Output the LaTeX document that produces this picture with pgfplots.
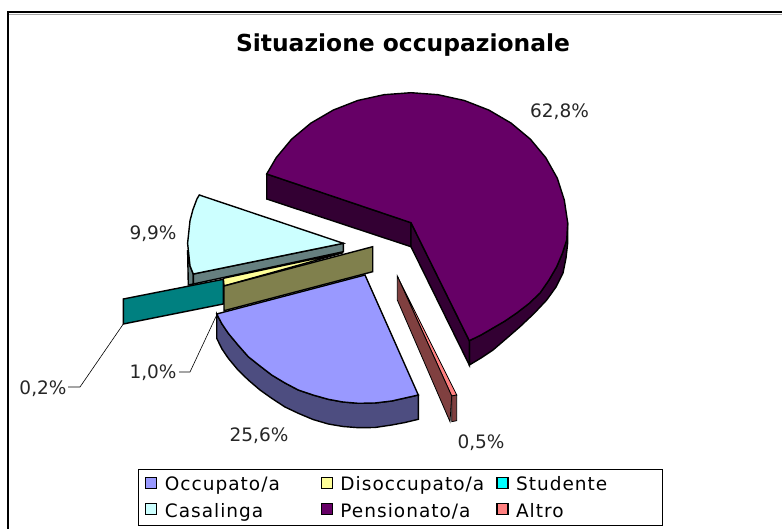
\documentclass[border=0pt]{standalone}
\usepackage{pgfplots}
\pgfplotsset{compat=1.18}
\usepackage{fontspec}
\setmainfont{DejaVu Sans}
\newfontfamily\legfont[LetterSpace=5.5]{DejaVu Sans}
\definecolor{cOcc}{HTML}{9999FF}\definecolor{cOccS}{HTML}{4D4D80}
\definecolor{cDis}{HTML}{FFFF99}\definecolor{cDisS}{HTML}{80804D}
\definecolor{cStu}{HTML}{00FFFF}\definecolor{cStuS}{HTML}{008080}
\definecolor{cCas}{HTML}{CCFFFF}\definecolor{cCasS}{HTML}{668080}
\definecolor{cPen}{HTML}{660066}\definecolor{cPenS}{HTML}{330033}
\definecolor{cAlt}{HTML}{FF8080}\definecolor{cAltS}{HTML}{804040}
\begin{document}
\begin{tikzpicture}
\begin{axis}[
  name=main,
  x=1pt,y=1pt,y dir=reverse,
  xmin=0,xmax=782,ymin=0,ymax=529,
  scale only axis,hide axis,
  legend columns=3,
  legend cell align=left,
  legend image code/.code={\draw[#1,line width=1.1pt] (0pt,0.5pt) rectangle (11pt,11.5pt);},
  legend style={at={(axis cs:138.3,469.3)},anchor=north west,draw=black,line width=0.9pt,
    inner xsep=6.5pt,inner ysep=5.5pt,
    font=\legfont\fontsize{18.5}{22}\selectfont,
    nodes={inner xsep=0pt,inner ysep=1.5pt,anchor=base west,yshift=-2pt},
    /tikz/every odd column/.append style={column sep=7.5pt},
    row sep=8pt},
  every axis plot/.append style={line width=1.4pt,draw=black},
]
\addlegendimage{fill=cOcc}\addlegendentry{\makebox[156pt][l]{Occupato/a}}
\addlegendimage{fill=cDis}\addlegendentry{\makebox[156pt][l]{Disoccupato/a}}
\addlegendimage{fill=cStu}\addlegendentry{\makebox[140pt][l]{Studente}}
\addlegendimage{fill=cCas}\addlegendentry{Casalinga}
\addlegendimage{fill=cPen}\addlegendentry{Pensionato/a}
\addlegendimage{fill=cAlt}\addlegendentry{Altro}
% frame
\addplot[forget plot,line width=2pt] coordinates {(7.5,529) (7.5,12.5) (782,12.5)};
\addplot[forget plot,draw=gray!70,line width=0.8pt] coordinates {(9,14.2) (782,14.2)};
% Pensionato
\addplot[forget plot,fill=cPenS] coordinates {(567.7,222.7) (567.7,243) (566,258) (563,273) (556,287) (546.7,300) (534,313.5) (520,326.7) (507,338) (493,350) (481,358) (469.3,365) (469.3,340.7) (481,335) (493,328) (505,321) (516.7,313) (529,303.5) (540,293) (549,280) (556.7,266.7) (562.5,253) (566.7,240)} --cycle;
\addplot[forget plot,fill=cPenS] coordinates {(266.7,174) (411,222.7) (411,246.7) (266.7,199)} --cycle;
\addplot[forget plot,fill=cPenS] coordinates {(411,222.7) (469.3,340.7) (469.3,365) (411,246.7)} --cycle;
\addplot[forget plot,fill=cPen] coordinates {(411,222.7) (266.7,174) (276.2,157.7) (291.7,139.1) (310.9,123.1) (333.2,110.1) (357.7,100.5) (384,94.7) (411,92.7) (438,94.7) (464.3,100.5) (488.9,110.1) (511.1,123.1) (530.3,139.1) (545.8,157.7) (557.3,178.2) (564.3,200.1) (567.7,222.7) (566.7,240) (562.5,253) (556.7,266.7) (549,280) (540,293) (529,303.5) (516.7,313) (505,321) (493,328) (481,335) (469.3,340.7)} --cycle;
% Casalinga
\addplot[forget plot,fill=cCasS] coordinates {(187.6,250) (190,265.9) (193.3,274) (193.3,284) (188.3,285)} --cycle;
\addplot[forget plot,fill=cCasS] coordinates {(193.3,274) (343.3,243.3) (343.3,251.7) (193.3,284)} --cycle;
\addplot[forget plot,fill=cCas] coordinates {(343.3,243.3) (199.3,195) (197,198.8) (192.9,209.7) (190,220.7) (187.6,243.3) (190,265.9) (193.3,274)} --cycle;
% Studente
\addplot[forget plot,fill=cStuS] coordinates {(123.3,299) (223.3,279.3) (223.3,304) (123.3,324)} --cycle;
% Disoccupato
\addplot[forget plot,fill=cDis] coordinates {(223.3,278.3) (343.3,252.7) (224,286)} --cycle;
\addplot[forget plot,fill=cDisS] coordinates {(224,286) (372.7,246.7) (372.7,271.7) (224,310.7)} --cycle;
% Occupato
\addplot[forget plot,fill=cOccS] coordinates {(216.7,314) (216.7,338.3) (222,349) (228.3,358.3) (238,370) (248.3,380) (260,390) (271.7,398.3) (285,407) (298.3,413.3) (313,419.5) (328.3,424) (343,426.5) (358.3,427.7) (375,427.5) (391.7,425) (405,422.5) (418.3,419.3) (418.3,395) (405,398) (391.7,401) (375,403) (358.3,403.3) (343,402) (328.3,399.3) (313,395) (298.3,390) (285,383) (271.7,375) (260,366) (248.3,356.7) (238,345) (228.3,333.3) (222,324)} --cycle;
\addplot[forget plot,fill=cOcc] coordinates {(365,275) (216.7,314) (222,324) (228.3,333.3) (238,345) (248.3,356.7) (260,366) (271.7,375) (285,383) (298.3,390) (313,395) (328.3,399.3) (343,402) (358.3,403.3) (375,403) (391.7,401) (405,398) (418.3,395)} --cycle;
% Altro
\addplot[forget plot,fill=cAlt,line width=0.8pt] coordinates {(397.3,276) (456.7,395) (451.7,396)} --cycle;
\addplot[forget plot,fill=cAltS,line width=0.8pt] coordinates {(397.3,276) (397.3,300) (450,421.7) (451.7,396)} --cycle;
\addplot[forget plot,fill=cAltS,line width=0.8pt] coordinates {(451.7,396) (456.7,395) (456.7,420.7) (451.7,421.7)} --cycle;
% leader lines
\addplot[forget plot,line width=0.6pt] coordinates {(68,387) (80,387) (123.3,324)};
\addplot[forget plot,line width=0.6pt] coordinates {(179,372) (190,372) (216.7,315)};
% texts
\node[font=\bfseries\fontsize{23.4}{26}\selectfont] at (axis cs:403,45) {Situazione occupazionale};
\begin{scope}[every node/.style={font=\fontsize{18.5}{22}\selectfont,text=black!85}]
\node at (axis cs:559.5,112) {62,8\%};
\node at (axis cs:153,234) {9,9\%};
\node at (axis cs:259,436) {25,6\%};
\node at (axis cs:481,443) {0,5\%};
\node at (axis cs:43,389) {0,2\%};
\node at (axis cs:153,373) {1,0\%};
\end{scope}
\end{axis}
\path (main.south west) rectangle (main.north east);
\end{tikzpicture}
\end{document}
